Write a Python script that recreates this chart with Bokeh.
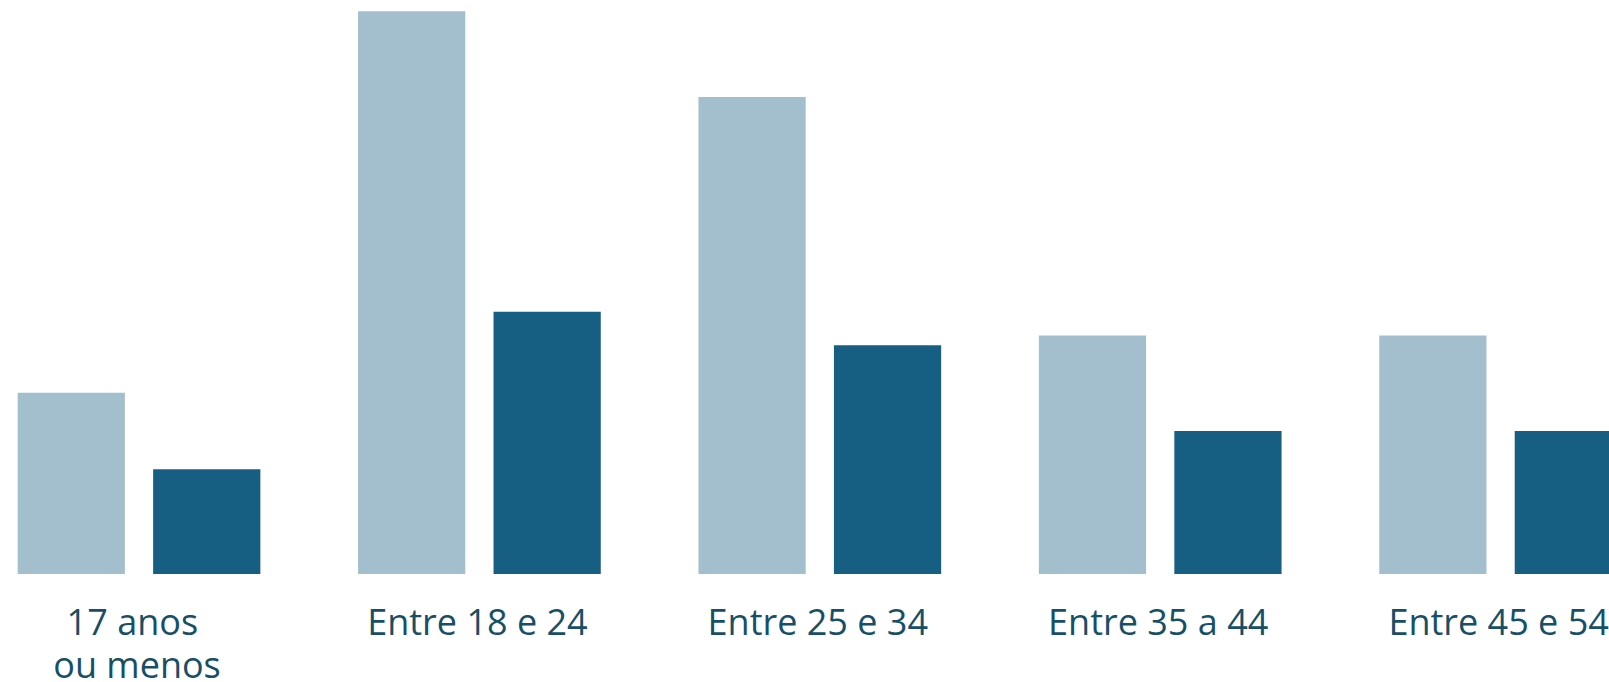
from bokeh.plotting import figure
from bokeh.models import ColumnDataSource, Range1d
from bokeh.core.properties import value
from bokeh.embed import file_html
from bokeh.resources import INLINE
from bokeh.transform import dodge

categories = ["17 anos \nou menos", "Entre 18 e 24", "Entre 25 e 34", "Entre 35 a 44", "Entre 45 e 54"]
serie_clara = [3.8, 11.8, 10.0, 5.0, 5.0]
serie_escura = [2.2, 5.5, 4.8, 3.0, 3.0]

pos = list(range(len(categories)))
source = ColumnDataSource(dict(x=pos, clara=serie_clara, escura=serie_escura,
                               label=categories, base=[0] * len(categories)))

p = figure(width=1609, height=682, output_backend="svg", toolbar_location=None,
           x_range=Range1d(-0.4069, 4.3199), y_range=Range1d(-2.2725, 12.025),
           min_border_left=0, min_border_right=0, min_border_top=0, min_border_bottom=0,
           outline_line_color=None, background_fill_color="white", border_fill_color="white")

p.vbar(x=dodge("x", -0.199), top="clara", width=0.315, source=source,
       fill_color="#a3bfcd", line_color=None)
p.vbar(x=dodge("x", 0.199), top="escura", width=0.315, source=source,
       fill_color="#175f82", line_color=None)

# category labels below the bars
p.text(x="x", y="base", text="label", source=source, x_offset=-2, y_offset=23,
       text_align="center", text_baseline="top",
       text_font=value("Open Sans"), text_font_size="36px",
       text_line_height=0.88, text_color="#174f66")

p.axis.visible = False
p.grid.visible = False

open("out.html", "w").write(file_html(p, INLINE))
